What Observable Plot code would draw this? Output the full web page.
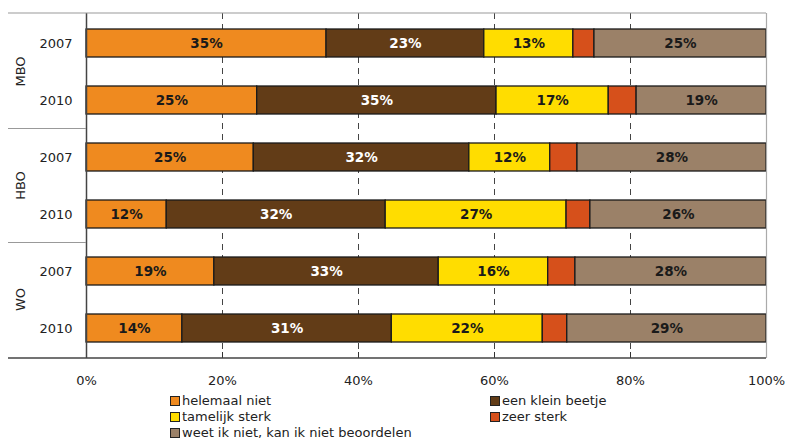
<!DOCTYPE html>
<html><head><meta charset="utf-8">
<script src="https://cdn.jsdelivr.net/npm/d3@7"></script>
<script src="https://cdn.jsdelivr.net/npm/@observablehq/plot@0.6"></script>
<style>
body{margin:0;background:#fff;font-family:"DejaVu Sans",Verdana,sans-serif;}
#legend{display:grid;grid-template-columns:320px auto;margin-left:170px;padding-top:1px;font-size:13px;line-height:16px;color:#222;}
.item{display:flex;align-items:center;white-space:nowrap;}
.sw{width:8px;height:8px;border:1.5px solid #222;margin-right:2px;flex:none;}
</style></head>
<body><div id="chart"></div><div id="legend"></div>
<script>
// ---- data ----
const groups = ["MBO","MBO","HBO","HBO","WO","WO"];
const years = ["2007","2010","2007","2010","2007","2010"];
const categories = ["helemaal niet","een klein beetje","tamelijk sterk","zeer sterk","weet ik niet, kan ik niet beoordelen"];
const colors = ["#EF8A1F","#623C17","#FFDD00","#D6501B","#9B8168"];
const helemaalNiet  = [35.3, 25.1, 24.6, 11.8, 18.8, 14.1];
const kleinBeetje   = [23.2, 35.2, 31.7, 32.2, 33.0, 30.8];
const tamelijkSterk = [13.1, 16.5, 11.9, 26.6, 16.1, 22.2];
const zeerSterk     = [3.1, 4.1, 4.0, 3.5, 4.0, 3.6];
const weetNiet      = [25.3, 19.1, 27.8, 25.9, 28.1, 29.3];
const xTicks = [0, 20, 40, 60, 80, 100];
const gridTicks = [20, 40, 60, 80];

const series = [helemaalNiet, kleinBeetje, tamelijkSterk, zeerSterk, weetNiet];
const keys = groups.map((g, i) => g + " " + years[i]);
const rows = [];
keys.forEach((k, i) => categories.forEach((c, j) => rows.push({key: k, group: groups[i], year: years[i], cat: c, value: series[j][i]})));
const lab = d => Math.round(d.value) + "%";

const chart = Plot.plot({
  width: 787, height: 392,
  marginTop: 13, marginBottom: 34, marginLeft: 86, marginRight: 21,
  style: {fontFamily: "DejaVu Sans", fontSize: "13px", color: "#222", background: "#fff"},
  x: {domain: [0, 100], ticks: xTicks, tickFormat: d => d + "%", tickSize: 0, tickPadding: 17, label: null},
  y: {domain: keys, paddingInner: 0.51, paddingOuter: 0.255, tickSize: 0, tickPadding: 14, tickFormat: k => k.split(" ")[1], label: null},
  color: {domain: categories, range: colors},
  marks: [
    Plot.ruleX(gridTicks, {stroke: "#444", strokeDasharray: "6,5", strokeWidth: 1}),
    Plot.ruleX(gridTicks, {stroke: "#333", insetTop: 339}),
    Plot.barX(rows, Plot.stackX({x: "value", y: "key", fill: "cat", stroke: "#1a1a1a", strokeWidth: 1.3})),
    Plot.text(rows, Plot.stackX({x: "value", y: "key", z: "cat",
      text: d => d.cat === "een klein beetje" ? lab(d) : null,
      fill: "#fff", fontWeight: "bold", fontSize: 13.5})),
    Plot.text(rows, Plot.stackX({x: "value", y: "key", z: "cat",
      text: d => (d.cat === "een klein beetje" || d.cat === "zeer sterk") ? null : lab(d),
      fill: "#1a1a1a", fontWeight: "bold", fontSize: 13.5})),
    Plot.ruleX([0], {stroke: "#444", strokeWidth: 1.5}),
    Plot.ruleX([100], {stroke: "#aaa", strokeWidth: 1.2})
  ]
});
document.getElementById("chart").appendChild(chart);

// ---- group labels and separators, placed with the plot's own scales ----
const ys = chart.scale("y"), xs = chart.scale("x");
const yb = d3.scaleBand(ys.domain, ys.range)
  .paddingInner(ys.paddingInner).paddingOuter(ys.paddingOuter)
  .align(ys.align ?? 0.5).round(!!ys.round);
const bw = yb.bandwidth();
const outerLeft = 8;
const xL = xs.range[0], xR = xs.range[1];
const svg = d3.select(chart);
const g = svg.append("g");
const yTop = Math.min(...ys.range), yBot = Math.max(...ys.range);
g.append("line").attr("x1", outerLeft).attr("x2", xR).attr("y1", yTop).attr("y2", yTop).attr("stroke", "#999").attr("stroke-width", 1.2);
g.append("line").attr("x1", outerLeft).attr("x2", xR).attr("y1", yBot).attr("y2", yBot).attr("stroke", "#444").attr("stroke-width", 1.5);
const uniq = [...new Set(groups)];
uniq.forEach((grp, gi) => {
  const ks = keys.filter((k, i) => groups[i] === grp);
  const cy = d3.mean(ks, k => yb(k) + bw / 2);
  g.append("text").attr("transform", `translate(${outerLeft + 12},${cy}) rotate(-90)`)
    .attr("text-anchor", "middle").attr("dy", "0.35em")
    .attr("font-family", "DejaVu Sans").attr("font-size", 13).attr("fill", "#222").text(grp);
  if (gi < uniq.length - 1) {
    const nextK = keys.find((k, i) => groups[i] === uniq[gi + 1]);
    const by = (yb(ks[ks.length - 1]) + bw + yb(nextK)) / 2;
    g.append("line").attr("x1", outerLeft).attr("x2", xL).attr("y1", by).attr("y2", by).attr("stroke", "#999").attr("stroke-width", 1.2);
  }
});

// ---- legend ----
const legend = document.getElementById("legend");
categories.forEach((c, i) => {
  const it = document.createElement("div"); it.className = "item";
  const sw = document.createElement("span"); sw.className = "sw"; sw.style.background = colors[i];
  const tx = document.createElement("span"); tx.textContent = c;
  it.appendChild(sw); it.appendChild(tx); legend.appendChild(it);
});
</script>
</body></html>
